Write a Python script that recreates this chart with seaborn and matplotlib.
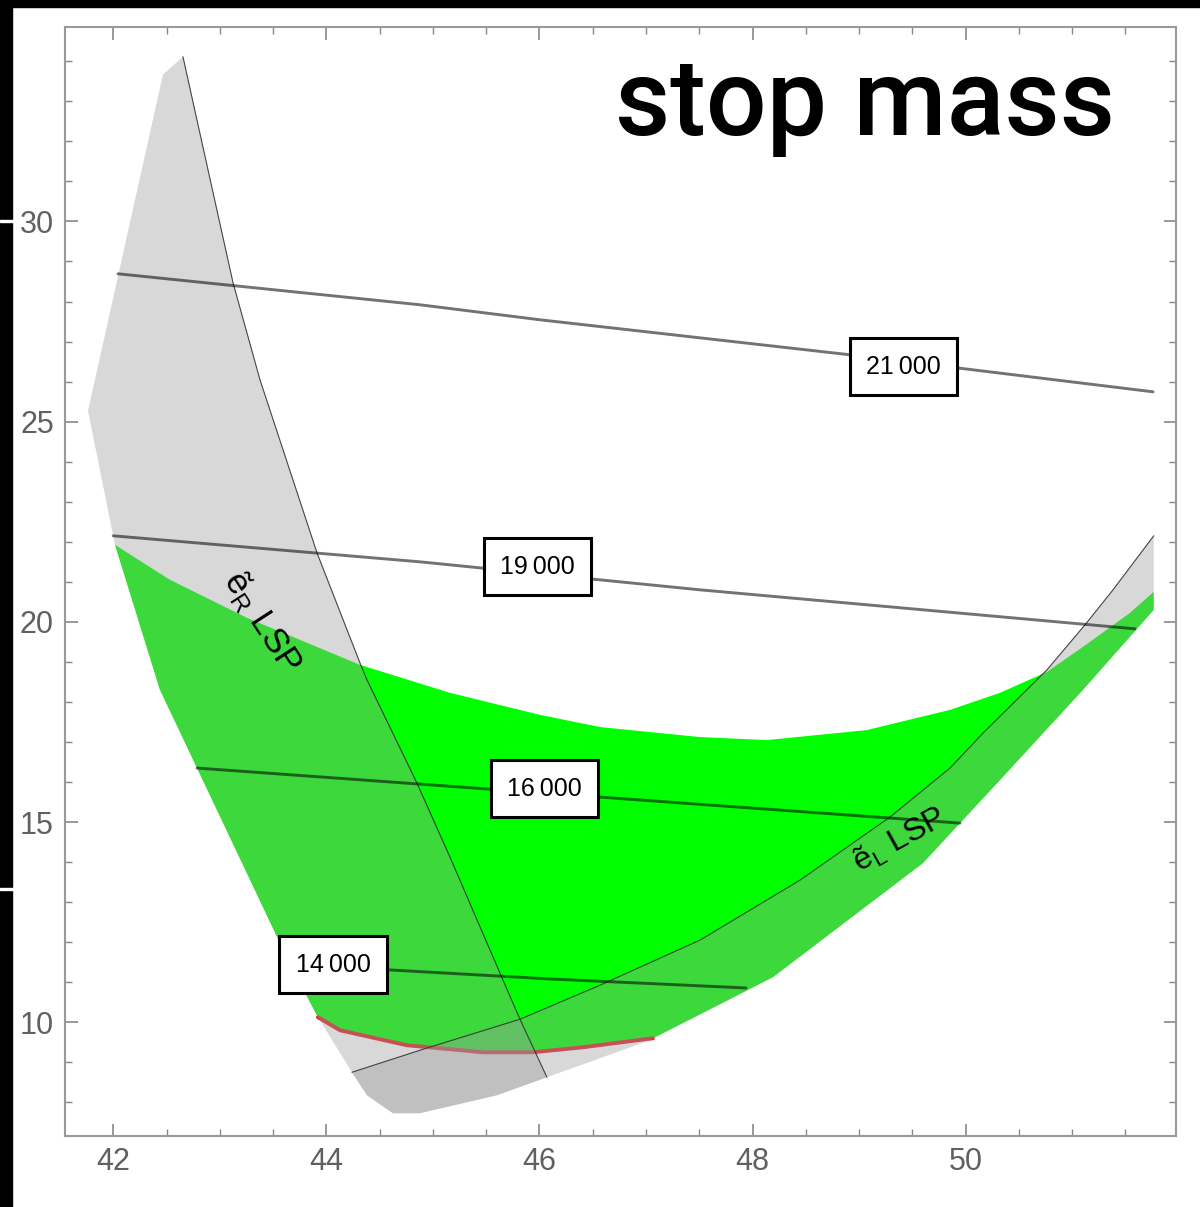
import seaborn as sns
import matplotlib.pyplot as plt
import matplotlib.patches as mpatches

# ---- data ----
# e_R LSP boundary (thin line, right edge of left grey region)
eR_x = [42.654, 43.124, 43.377, 43.912, 44.315, 44.381, 44.850, 45.160, 45.658, 45.817, 46.070]
eR_y = [34.114, 28.469, 26.045, 21.724, 18.977, 18.552, 15.974, 14.125, 11.051, 10.076, 8.627]

# outer left / bottom edge of the scanned region (apex -> bottom)
edge_left_x = [42.654, 42.466, 41.763, 42.016, 42.438, 42.786, 43.565, 43.846, 43.921, 43.968,
               44.240, 44.381, 44.625, 44.878, 45.601, 46.070]
edge_left_y = [34.114, 33.665, 25.271, 21.924, 18.302, 16.349, 11.976, 10.501, 10.126, 9.926,
               8.752, 8.177, 7.728, 7.728, 8.177, 8.627]

# lower right edge (from x=46.07 to right border)
edge_right_x = [46.070, 47.037, 47.506, 48.191, 49.599, 50.322, 51.101, 51.765]
edge_right_y = [8.627, 9.551, 10.183, 11.126, 13.975, 16.049, 18.302, 20.300]

# e_L LSP boundary (thin line, upper edge of right grey region)
eL_x = [44.240, 44.907, 45.817, 46.568, 47.506, 48.445, 49.289, 49.853, 50.163, 50.763, 51.120, 51.383, 51.765]
eL_y = [8.752, 9.326, 10.076, 10.926, 12.051, 13.550, 15.124, 16.349, 17.223, 18.802, 19.926, 20.800, 22.149]

# green allowed region: upper edge
green_top_x = [42.016, 42.532, 43.255, 44.315, 45.160, 46.005, 46.568, 47.506, 48.135, 49.074,
               49.853, 50.322, 50.763, 51.101, 51.543, 51.765]
green_top_y = [21.924, 21.050, 20.101, 18.927, 18.227, 17.677, 17.373, 17.123, 17.048, 17.298,
               17.802, 18.227, 18.752, 19.376, 20.226, 20.750]

# red lower limit of the green region
red_x = [43.921, 44.128, 44.756, 45.470, 45.939, 46.408, 47.065]
red_y = [10.126, 9.801, 9.426, 9.251, 9.251, 9.376, 9.601]

# stop mass contours
contour_levels = ["21\u2009000", "19\u2009000", "16\u2009000", "14\u2009000"]
c21_x = [42.044, 44.878, 46.005, 48.914, 51.759]
c21_y = [28.693, 27.919, 27.544, 26.670, 25.745]
c19_x = [42.000, 44.878, 47.506, 51.590]
c19_y = [22.149, 21.499, 20.800, 19.826]
c16_x = [42.786, 44.222, 46.568, 49.947]
c16_y = [16.349, 16.074, 15.624, 14.974]
c14_x = [43.753, 44.597, 46.099, 47.938]
c14_y = [11.456, 11.307, 11.082, 10.857]
label_x = [49.416, 45.981, 46.047, 44.062]
label_y = [26.370, 21.374, 15.828, 11.431]

# ---- figure ----
sns.set_theme(style='ticks')
plt.rcParams['font.family'] = ['Liberation Sans', 'DejaVu Sans']

fig = plt.figure(figsize=(12, 12.07), dpi=100)
ax = fig.add_axes([65 / 1200, 71 / 1207, 1111 / 1200, 1109 / 1207])

# green region
gx = green_top_x + [51.765] + edge_right_x[::-1][1:5] + [47.065] + red_x[::-1][1:] \
    + edge_left_x[3:9][::-1]
gy = green_top_y + [20.300] + edge_right_y[::-1][1:5] + [9.601] + red_y[::-1][1:] \
    + edge_left_y[3:9][::-1]
ax.fill(gx, gy, color='#00ff00', lw=0, zorder=1)
sns.lineplot(x=red_x, y=red_y, sort=False, estimator=None, color='#e3202c', lw=2.8,
             ax=ax, zorder=2)

# grey LSP regions
grey = (0.61, 0.61, 0.61)
ax.fill(edge_left_x + eR_x[::-1], edge_left_y + eR_y[::-1], color=grey, alpha=0.39, lw=0, zorder=3)
ax.fill(eL_x + edge_right_x[::-1] + edge_left_x[10:][::-1][1:],
        eL_y + edge_right_y[::-1] + edge_left_y[10:][::-1][1:],
        color=grey, alpha=0.39, lw=0, zorder=3)
sns.lineplot(x=eR_x, y=eR_y, sort=False, estimator=None, color='#333333', lw=0.8, alpha=0.9,
             ax=ax, zorder=4)
sns.lineplot(x=eL_x, y=eL_y, sort=False, estimator=None, color='#333333', lw=0.8, alpha=0.9,
             ax=ax, zorder=4)

# contours with boxed labels
for cx, cy in [(c21_x, c21_y), (c19_x, c19_y), (c16_x, c16_y), (c14_x, c14_y)]:
    sns.lineplot(x=cx, y=cy, sort=False, estimator=None, color='black', lw=2.1, alpha=0.55,
                 ax=ax, zorder=5)
for lab, lx, ly in zip(contour_levels, label_x, label_y):
    ax.text(lx, ly, lab, ha='center', va='center', fontsize=18, color='black', zorder=7,
            linespacing=1.3,
            bbox=dict(boxstyle='square,pad=0.66', fc='white', ec='black', lw=2.2))

ax.text(43.40, 20.0, 'ẽ$_{\\mathregular{R}}$ LSP', rotation=-57, ha='center', va='center',
        fontsize=25, color='black', zorder=6, rotation_mode='anchor')
ax.text(49.38, 14.55, 'ẽ$_{\\mathregular{L}}$ LSP', rotation=29, ha='center', va='center',
        fontsize=23, color='black', zorder=6, rotation_mode='anchor')

ax.set_xlim(41.547, 51.974)
ax.set_ylim(7.16, 34.856)
ax.set_xlabel('')
ax.set_ylabel('')
ax.set_xticks([42, 44, 46, 48, 50])
ax.set_xticks([x / 2 for x in range(84, 104)], minor=True)
ax.set_yticks([10, 15, 20, 25, 30])
ax.set_yticks(list(range(8, 35)), minor=True)
ax.tick_params(which='both', direction='in', top=True, right=True, color='#888888',
               labelcolor='#606060', labelsize=22, pad=8)
ax.tick_params(which='major', length=9, width=1.2)
ax.tick_params(which='minor', length=5, width=1.0)
for s in ax.spines.values():
    s.set_color('#999999')
    s.set_linewidth(1.5)

fig.text(615 / 1200, 1 - 135 / 1207, 'stop mass', ha='left', va='baseline', fontsize=77,
         color='black', family=['Roboto', 'Liberation Sans'], weight='medium')

# screenshot borders
fig.patches.append(mpatches.Rectangle((0, 1 - 7 / 1207), 1, 7 / 1207, transform=fig.transFigure,
                                      color='black', zorder=10))
fig.patches.append(mpatches.Rectangle((0, 0), 12 / 1200, 1, transform=fig.transFigure,
                                      color='black', zorder=10))
for yy in [221, 889]:
    fig.patches.append(mpatches.Rectangle((0, 1 - (yy + 1) / 1207), 14 / 1200, 2 / 1207,
                                          transform=fig.transFigure, color='white', zorder=11))

fig.savefig('out.png', dpi=100)
